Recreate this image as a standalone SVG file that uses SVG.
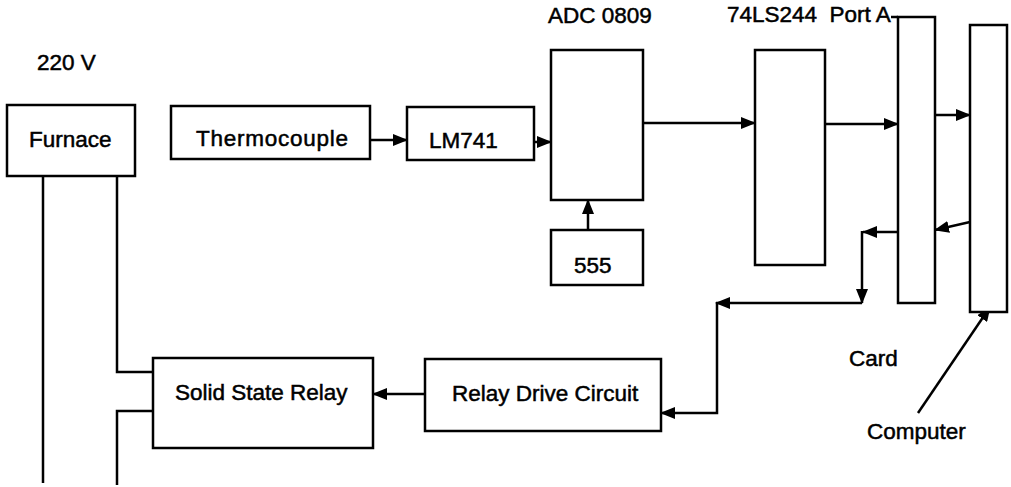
<svg xmlns="http://www.w3.org/2000/svg" width="1011" height="487" viewBox="0 0 1011 487">
<style>
.box{fill:#fff;stroke:#000;stroke-width:2.5}
.t{font-family:"Liberation Sans",Arial,sans-serif;font-size:22.5px;fill:#000;stroke:#000;stroke-width:0.5}
.c{fill:none;stroke:#000;stroke-width:2.5}
.a{marker-end:url(#ah)}
</style>
<defs>
<marker id="ah" viewBox="0 0 15 12" refX="14" refY="6" markerWidth="15" markerHeight="12" markerUnits="userSpaceOnUse" orient="auto">
<path d="M0,0 L15,6 L0,12 z" fill="#000"/>
</marker>
</defs>
<rect width="1011" height="487" fill="#fff"/>
<text class="t" x="37" y="70">220 V</text>
<g id="connectors">
<path class="c" d="M43,176 V483"/>
<path class="c" d="M117,176 V372 H153"/>
<path class="c" d="M153,411 H117 V485"/>
<path class="c a" d="M370,140 H407"/>
<path class="c a" d="M534,142 H551"/>
<path class="c a" d="M588,230 V200"/>
<path class="c a" d="M643,123 H755"/>
<path class="c a" d="M825,124 H898"/>
<path class="c a" d="M935,115 H970"/>
<path class="c a" d="M970,222 L935,230"/>
<path class="c a" d="M898,232 H863"/>
<path class="c a" d="M862,231 V303"/>
<path class="c a" d="M862,303 H716"/>
<path class="c a" d="M717,302 V413 H661"/>
<path class="c a" d="M425,394 H373"/>
<path class="c a" d="M918,413 L990,307"/>
<path class="c" d="M891,17 H898"/>
</g>
<g id="furnace"><rect class="box" x="7" y="105" width="128" height="71"/><text class="t" x="29" y="147">Furnace</text></g>
<g id="thermocouple"><rect class="box" x="171" y="106" width="199" height="53"/><text class="t" x="196" y="146" textLength="152">Thermocouple</text></g>
<g id="lm741"><rect class="box" x="407" y="107" width="127" height="53"/><text class="t" x="429" y="148">LM741</text></g>
<g id="adc0809"><rect class="box" x="551" y="50" width="92" height="150"/><text class="t" x="548" y="23">ADC 0809</text></g>
<g id="timer555"><rect class="box" x="551" y="230" width="92" height="55"/><text class="t" x="574" y="273">555</text></g>
<g id="ls244"><rect class="box" x="755" y="50" width="70" height="215"/><text class="t" x="727" y="22" xml:space="preserve">74LS244  Port A</text></g>
<g id="card"><rect class="box" x="898" y="17" width="37" height="286"/><text class="t" x="849" y="366">Card</text></g>
<g id="computer"><rect class="box" x="970" y="25" width="37" height="287"/><text class="t" x="867" y="439">Computer</text></g>
<g id="ssr"><rect class="box" x="153" y="358" width="220" height="90"/><text class="t" x="175" y="400">Solid State Relay</text></g>
<g id="relaydrive"><rect class="box" x="425" y="359" width="236" height="72"/><text class="t" x="452" y="401">Relay Drive Circuit</text></g>
</svg>
